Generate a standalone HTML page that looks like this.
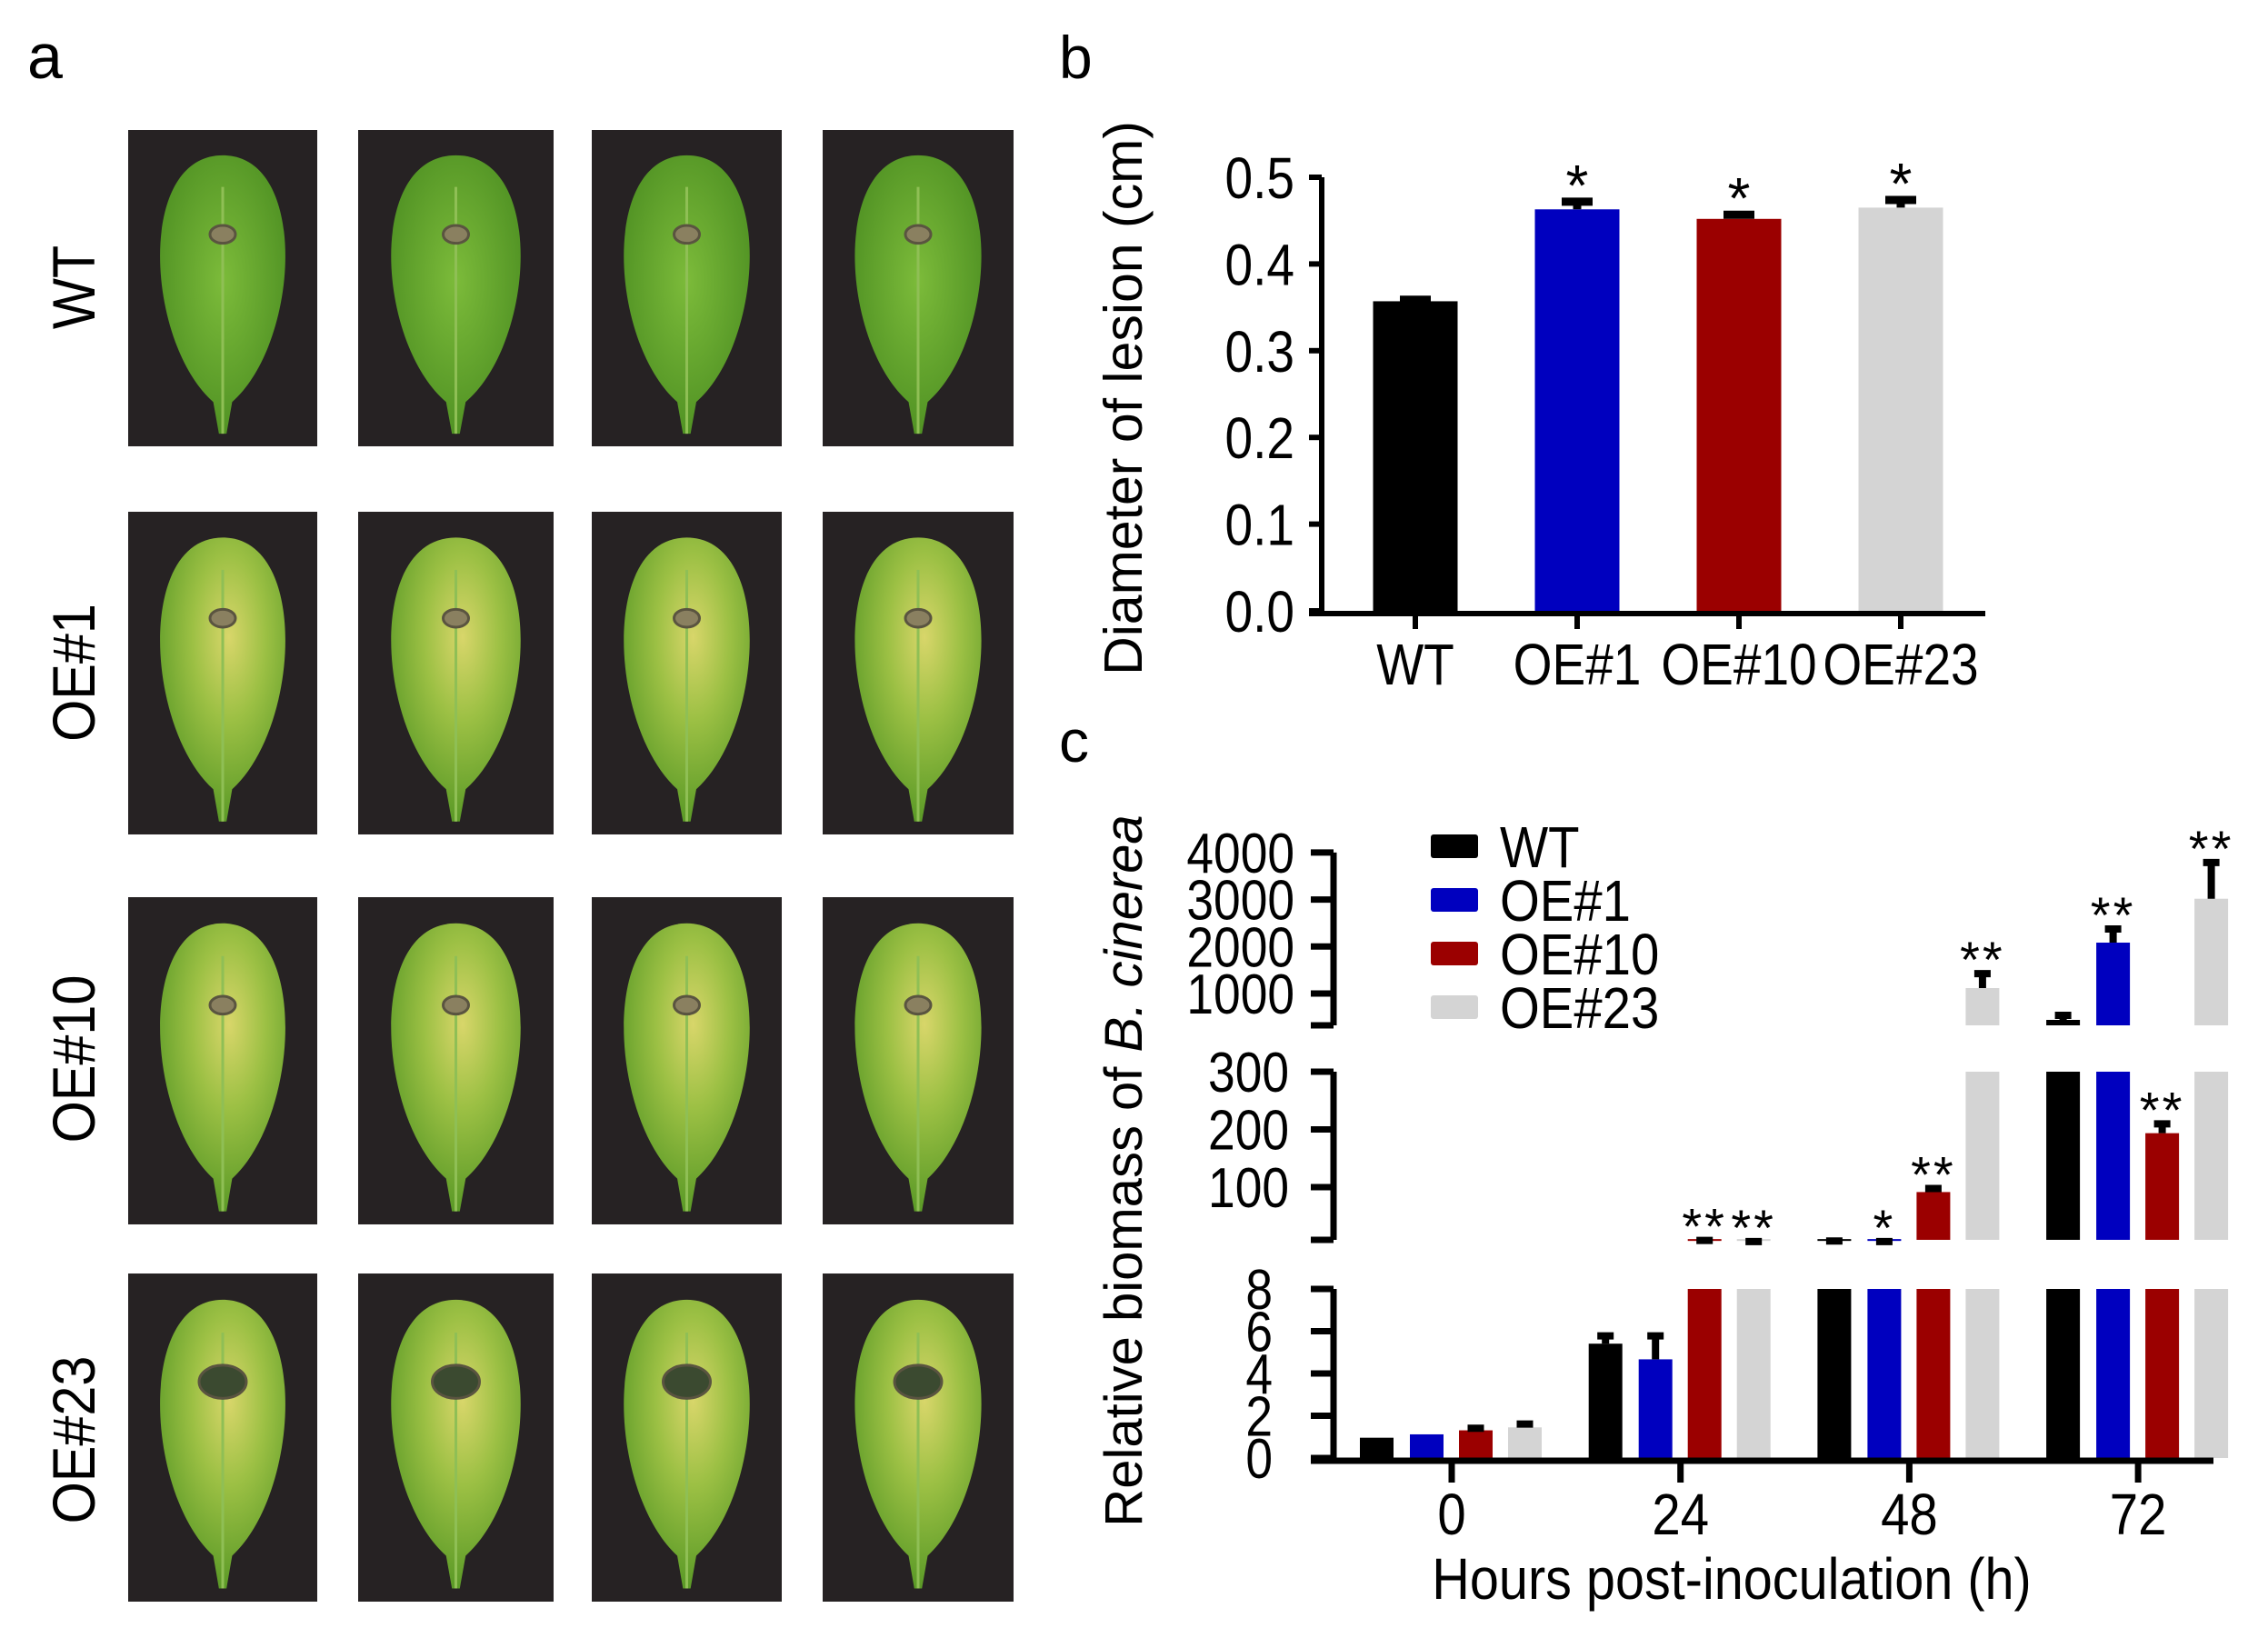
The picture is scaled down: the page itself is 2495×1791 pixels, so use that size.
<!DOCTYPE html>
<html><head><meta charset="utf-8"><style>
html,body{margin:0;padding:0;background:#fff;}
svg{display:block;font-family:"Liberation Sans",Arial,sans-serif;}
</style></head><body>
<svg id="fig" width="2495" height="1791" viewBox="0 0 2495 1791" xmlns="http://www.w3.org/2000/svg">
<defs>
<radialGradient id="gGreen" cx="50%" cy="45%" r="60%"><stop offset="0" stop-color="#7cbb3a"/><stop offset="1" stop-color="#4d8f22"/></radialGradient>
<radialGradient id="gYellow" cx="55%" cy="35%" r="65%"><stop offset="0" stop-color="#d8d66a"/><stop offset="0.45" stop-color="#9cc044"/><stop offset="1" stop-color="#5b9a27"/></radialGradient>
</defs>
<text x="30" y="86" font-size="70">a</text>
<text x="1165" y="86" font-size="66">b</text>
<text x="1165" y="838" font-size="66">c</text>
<g id="photos"></g>
<g id="chartB"></g>
<g id="chartC"></g>
</svg>
<script>
const NS="http://www.w3.org/2000/svg";
function mk(parent,tag,attrs,text){const e=document.createElementNS(NS,tag);for(const k in attrs)e.setAttribute(k,attrs[k]);if(text!==undefined)e.textContent=text;parent.appendChild(e);return e;}
function tx(parent,x,y,size,anchor,str,sx){return mk(parent,'text',{x:0,y:0,'font-size':size,'text-anchor':anchor,transform:`translate(${x},${y}) scale(${sx},1)`},str);}

// ---------- Panel a: photos ----------
const rowLabels=["WT","OE#1","OE#10","OE#23"];
const rowBoxes=[[143,491],[563,918],[987,1347],[1401,1762]];
const colBoxes=[[141,349],[394,609],[651,860],[905,1115]];
const rowLabelY=[316,740,1165,1584];
const photos=document.getElementById('photos');
for(let r=0;r<4;r++){
  const t=mk(photos,'text',{x:0,y:0,'font-size':66,'text-anchor':'middle',transform:`translate(104,${rowLabelY[r]}) rotate(-90) scale(0.9,1)`},rowLabels[r]);
  
  
  for(let c=0;c<4;c++){
    const [x0,x1]=colBoxes[c],[y0,y1]=rowBoxes[r];
    const g=mk(photos,'g',{});
    
    
    mk(g,'rect',{x:x0,y:y0,width:x1-x0,height:y1-y0,fill:'#262223'});
    const cx=(x0+x1)/2,w=x1-x0,h=y1-y0;
    const top=y0+h*0.08,bot=y1-h*0.04,mid=y0+h*0.42;
    const rx=w*0.34;
    const d=`M${cx} ${top} C${cx+rx*1.35} ${top} ${cx+rx*1.2} ${mid+h*0.25} ${cx+w*0.05} ${bot-h*0.1} L${cx+w*0.02} ${bot} L${cx-w*0.02} ${bot} L${cx-w*0.05} ${bot-h*0.1} C${cx-rx*1.2} ${mid+h*0.25} ${cx-rx*1.35} ${top} ${cx} ${top} Z`;
    mk(g,'path',{d:d,fill:r===0?'url(#gGreen)':'url(#gYellow)'});
    mk(g,'path',{d:`M${cx} ${top+h*0.1} L${cx} ${bot}`,stroke:'#8fbf55','stroke-width':3,fill:'none'});
    const ls=r===3?26:14;
    mk(g,'ellipse',{cx:cx,cy:y0+h*0.33,rx:ls,ry:ls*0.7,fill:r===3?'#3b4a30':'#8a8060',stroke:'#5a5440','stroke-width':3});
  }
}

// ---------- Panel b ----------
const bCats=["WT","OE#1","OE#10","OE#23"];
const bVals=[0.357,0.463,0.452,0.465];
const bErr=[0.363,0.476,0.461,0.478];
const bStars=["","*","*","*"];
const bTicks=[0,0.1,0.2,0.3,0.4,0.5];
const bColors=["#000000","#0000bf","#9b0000","#d4d4d4"];
const B=document.getElementById('chartB');
const byv=v=>672-v*954;
const bx=i=>1557+i*178;
const bW=93;
for(let i=0;i<bCats.length;i++){
  const top=byv(bVals[i]);
  const r=mk(B,'rect',{x:bx(i)-bW/2,y:top,width:bW,height:byv(0)-top,fill:bColors[i]});
  
  
  const e=mk(B,'path',{d:`M${bx(i)} ${top} V${byv(bErr[i])} M${bx(i)-17} ${byv(bErr[i])+4} H${bx(i)+17}`,stroke:'#000','stroke-width':9,fill:'none'});
  
  
  if(bStars[i]){const s=mk(B,'text',{x:bx(i),y:byv(bErr[i])+8,'font-size':64,'text-anchor':'middle'},bStars[i]);
    
    }
  const l=tx(B,bx(i),753,64,'middle',bCats[i],0.86);
  
  
  mk(B,'line',{x1:bx(i),x2:bx(i),y1:672,y2:692,stroke:'#000','stroke-width':6});
}
const bAx=mk(B,'path',{d:`M1454 ${byv(0.5)} V675 M1440 675 H2184`,stroke:'#000','stroke-width':6,fill:'none'});


bTicks.forEach(t=>{
  mk(B,'line',{x1:1440,x2:1454,y1:byv(t),y2:byv(t),stroke:'#000','stroke-width':6});
  const l=tx(B,1424,byv(t)+23,64,'end',t.toFixed(1),0.86);
  
  
});
const bYT=mk(B,'text',{x:0,y:0,'font-size':59,'text-anchor':'middle',transform:'translate(1256,438) rotate(-90)'},'Diameter of lesion (cm)');



// ---------- Panel c ----------
const cGroups=["0","24","48","72"];
const cSeries=["WT","OE#1","OE#10","OE#23"];
const cWT=[0.96,5.41,10,439];
const cOE1=[1.12,4.67,10,2083];
const cOE10=[1.31,10,91.5,193.5];
const cOE23=[1.45,10,1116,3017];
const cErrWT=[0.96,5.95,13,613];
const cErrOE1=[1.12,5.95,12,2450];
const cErrOE10=[1.58,14,104,216];
const cErrOE23=[1.78,12,1500,3865];
const cStarsOE1=["","","*","**"];
const cStarsOE10=["","**","**","**"];
const cStarsOE23=["","**","**","**"];
const cStarsWT=["","","",""];
const ticksLow=[0,2,4,6,8];
const ticksMid=[100,200,300];
const ticksHigh=[1000,2000,3000,4000];
const C=document.getElementById('chartC');
const AX=1467;
const segs=[
  {lo:0,hi:8,y:v=>1604-v*23.25},
  {lo:8.7,hi:300,y:v=>1369.5-v*0.635},
  {lo:323,hi:4000,y:v=>1093-(v-1000)*0.0517}
];
const segOf=v=>v<=8?segs[0]:(v<=300?segs[1]:segs[2]);
const yOf=v=>{const s=segOf(v);return s.y(Math.max(s.lo,Math.min(s.hi,v)));};
const gx=i=>1597+i*251.7;
const offs=[-101,-46,8,62];
const cW=37;
const vals=[cWT,cOE1,cOE10,cOE23],errs=[cErrWT,cErrOE1,cErrOE10,cErrOE23],stars=[cStarsWT,cStarsOE1,cStarsOE10,cStarsOE23];
for(let s=0;s<4;s++){
  for(let g=0;g<4;g++){
    const v=vals[s][g],x=gx(g)+offs[s];
    segs.forEach(sg=>{
      if(v>sg.lo){
        const yt=sg.y(Math.min(v,sg.hi)),yb=sg.y(sg.lo);
        const r=mk(C,'rect',{x:x,y:yt,width:cW,height:Math.max(2,yb-yt),fill:bColors[s]});
        
        
      }
    });
    const ev=errs[s][g];
    if(ev>v){
      const yt=yOf(ev),yv=yOf(Math.max(v,segOf(ev).lo));
      const cxm=x+cW/2;
      const e=mk(C,'path',{d:`M${cxm} ${yv} V${yt} M${cxm-9} ${yt+4} H${cxm+9}`,stroke:'#000','stroke-width':8,fill:'none'});
      
      
    }
    if(stars[s][g]){
      const st=mk(C,'text',{x:x+cW/2,y:yOf(Math.max(ev,v))+8,'font-size':56,'text-anchor':'middle','letter-spacing':'3'},stars[s][g]);
      
      
    }
  }
  const lg=mk(C,'rect',{x:1574,y:918+s*59,width:52,height:26,fill:bColors[s],rx:3});
  
  
  const lt=tx(C,1650,954+s*59,64,'start',cSeries[s],0.88);
  
  
}
const cAx=mk(C,'path',{d:`M${AX} 1607 V${segs[0].y(8)} M${AX} ${segs[1].y(8.7)} V${segs[1].y(300)} M${AX} ${segs[2].y(323)} V${segs[2].y(4000)} M${AX-25} 1607 H2435`,stroke:'#000','stroke-width':7,fill:'none'});


[[segs[0],ticksLow,1400],[segs[1],ticksMid,1418],[segs[2],ticksHigh,1424]].forEach(([sg,ts,lx])=>{
  ts.forEach(t=>{
    mk(C,'line',{x1:AX-25,x2:AX,y1:sg.y(t),y2:sg.y(t),stroke:'#000','stroke-width':7});
    const l=tx(C,lx,sg.y(t)+22,62,'end',String(t),0.86);
    
    
  });
});
mk(C,'line',{x1:AX-25,x2:AX,y1:segs[1].y(8.7),y2:segs[1].y(8.7),stroke:'#000','stroke-width':7});
mk(C,'line',{x1:AX-25,x2:AX,y1:segs[2].y(323),y2:segs[2].y(323),stroke:'#000','stroke-width':7});
cGroups.forEach((g,i)=>{
  mk(C,'line',{x1:gx(i),x2:gx(i),y1:1607,y2:1631,stroke:'#000','stroke-width':7});
  const l=tx(C,gx(i),1688,64,'middle',g,0.88);
  
  
});
const cXT=tx(C,1905,1759,64,'middle','Hours post-inoculation (h)',0.9);


const cYT=mk(C,'text',{x:0,y:0,'font-size':58,'text-anchor':'middle',transform:'translate(1256,1288) rotate(-90)'});


mk(cYT,'tspan',{},'Relative biomass of ');
mk(cYT,'tspan',{'font-style':'italic'},'B. cinerea');
</script>
</body></html>
